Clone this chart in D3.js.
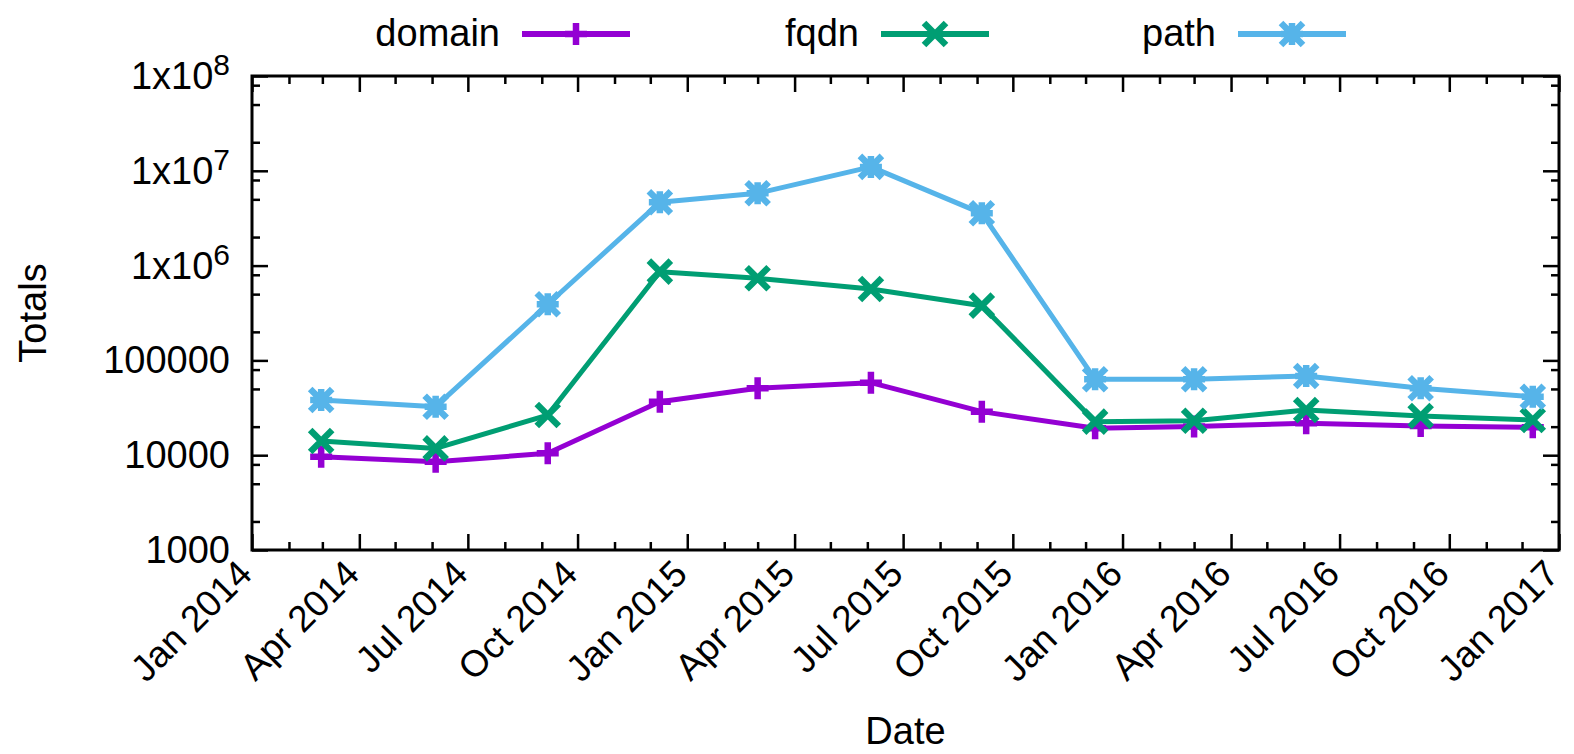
<!DOCTYPE html>
<html>
<head>
<meta charset="utf-8">
<script src="https://cdn.jsdelivr.net/npm/d3@7"></script>
<style>
  html, body { margin: 0; padding: 0; background: #fff; }
  svg { display: block; font-family: "Liberation Sans", Arial, sans-serif; }
</style>
</head>
<body>
<svg id="chart" width="1574" height="754"></svg>
<script>
// snapshot dates and totals
const dates = ["2014-02-28", "2014-06-04", "2014-09-06", "2014-12-09",
               "2015-03-01", "2015-06-04", "2015-09-05", "2015-12-09",
               "2016-03-01", "2016-06-03", "2016-09-07", "2016-12-10"];
const domainVals = [9640, 8540, 10470, 36700, 50800, 58200, 28800, 19200, 20100, 21700, 20300, 19700];
const fqdnVals   = [14100, 11800, 26500, 863000, 735000, 566000, 378000, 22600, 23100, 30000, 25900, 23500];
const pathVals   = [38200, 32500, 391000, 4650000, 5790000, 11000000, 3560000, 63200, 63200, 68500, 50800, 41400];

const seriesNames = ["domain", "fqdn", "path"];
const seriesColors = ["#9400d3", "#009e73", "#56b4e9"];
const seriesSymbols = ["plus", "cross", "star"];

const yTickValues = [1e3, 1e4, 1e5, 1e6, 1e7, 1e8];
const yMinorFactors = [2, 5, 8];

const svg = d3.select("#chart");
const plotL = 252, plotR = 1559, plotT = 76, plotB = 550;

const parse = d3.utcParse("%Y-%m-%d");
const x = d3.scaleUtc()
  .domain([new Date(Date.UTC(2014, 0, 1)), new Date(Date.UTC(2017, 0, 1))])
  .range([plotL, plotR]);
const y = d3.scaleLog()
  .domain([1e3, 1e8])
  .range([plotB, plotT]);

const series = [domainVals, fqdnVals, pathVals].map((vals, i) => ({
  name: seriesNames[i],
  color: seriesColors[i],
  symbol: seriesSymbols[i],
  points: vals.map((v, j) => ({ date: parse(dates[j]), value: v }))
}));

// ticks: gnuplot style, inward on all four sides
const majorX = d3.utcMonth.every(3).range(x.domain()[0], new Date(Date.UTC(2017, 0, 2)));
const minorX = d3.utcMonth.range(x.domain()[0], x.domain()[1]).filter(d => d.getUTCMonth() % 3 !== 0);
const minorY = [];
yTickValues.slice(0, -1).forEach(t => yMinorFactors.forEach(f => minorY.push(t * f)));

const tickStyle = g => {
  g.select(".domain").remove();
  g.selectAll("line").attr("stroke", "#000").attr("stroke-width", 2.5);
  g.selectAll("text").remove();
};

svg.append("g").attr("transform", `translate(0,${plotB})`)
  .call(d3.axisBottom(x).tickValues(majorX).tickSize(-16).tickFormat("")).call(tickStyle);
svg.append("g").attr("transform", `translate(0,${plotB})`)
  .call(d3.axisBottom(x).tickValues(minorX).tickSize(-8).tickFormat("")).call(tickStyle);
svg.append("g").attr("transform", `translate(0,${plotT})`)
  .call(d3.axisTop(x).tickValues(majorX).tickSize(-16).tickFormat("")).call(tickStyle);
svg.append("g").attr("transform", `translate(0,${plotT})`)
  .call(d3.axisTop(x).tickValues(minorX).tickSize(-8).tickFormat("")).call(tickStyle);

svg.append("g").attr("transform", `translate(${plotL},0)`)
  .call(d3.axisLeft(y).tickValues(yTickValues).tickSize(-16).tickFormat("")).call(tickStyle);
svg.append("g").attr("transform", `translate(${plotL},0)`)
  .call(d3.axisLeft(y).tickValues(minorY).tickSize(-8).tickFormat("")).call(tickStyle);
svg.append("g").attr("transform", `translate(${plotR},0)`)
  .call(d3.axisRight(y).tickValues(yTickValues).tickSize(-16).tickFormat("")).call(tickStyle);
svg.append("g").attr("transform", `translate(${plotR},0)`)
  .call(d3.axisRight(y).tickValues(minorY).tickSize(-8).tickFormat("")).call(tickStyle);

// frame
svg.append("rect")
  .attr("x", plotL).attr("y", plotT)
  .attr("width", plotR - plotL).attr("height", plotB - plotT)
  .attr("fill", "none").attr("stroke", "#000").attr("stroke-width", 3);

// y tick labels, 1x10^n for the big ones
const yLab = svg.append("g").attr("font-size", 38).attr("fill", "#000");
yTickValues.forEach(v => {
  const e = Math.round(Math.log10(v));
  const t = yLab.append("text")
    .attr("x", 230).attr("y", y(v) + 13)
    .attr("text-anchor", "end");
  if (e < 6) {
    t.text(d3.format("d")(v));
  } else {
    t.append("tspan").text("1x10");
    t.append("tspan").attr("font-size", 30).attr("dy", -14).text(e);
  }
});

// x tick labels, rotated
const fmt = d3.utcFormat("%b %Y");
svg.append("g").attr("font-size", 37).attr("fill", "#000")
  .selectAll("text")
  .data(majorX)
  .join("text")
  .attr("text-anchor", "end")
  .attr("transform", d => `translate(${x(d) + 2},${plotB + 26}) rotate(-45)`)
  .text(d => fmt(d));

// axis titles
svg.append("text")
  .attr("x", (plotL + plotR) / 2).attr("y", 744)
  .attr("text-anchor", "middle").attr("font-size", 38)
  .text("Date");
svg.append("text")
  .attr("transform", `translate(46,${(plotT + plotB) / 2}) rotate(-90)`)
  .attr("text-anchor", "middle").attr("font-size", 38)
  .text("Totals");

// markers
const ms = 11;
const symbolPath = {
  plus: `M${-ms},0H${ms}M0,${-ms}V${ms}`,
  cross: `M${-ms},${-ms}L${ms},${ms}M${-ms},${ms}L${ms},${-ms}`,
  star: `M${-ms},0H${ms}M0,${-ms}V${ms}M${-ms},${-ms}L${ms},${ms}M${-ms},${ms}L${ms},${-ms}`
};

const line = d3.line()
  .x(d => x(d.date))
  .y(d => y(d.value));

const sg = svg.append("g").selectAll("g")
  .data(series)
  .join("g");

sg.append("path")
  .attr("d", d => line(d.points))
  .attr("fill", "none")
  .attr("stroke", d => d.color)
  .attr("stroke-width", 5)
  .attr("stroke-linejoin", "round");

sg.each(function(s) {
  d3.select(this).selectAll(".pt")
    .data(s.points)
    .join("path")
    .attr("class", "pt")
    .attr("transform", d => `translate(${x(d.date)},${y(d.value)})`)
    .attr("d", symbolPath[s.symbol])
    .attr("fill", "none")
    .attr("stroke", s.color)
    .attr("stroke-width", 6.5);
});

// legend along the top
const legendRight = [500, 859, 1216];
const legend = svg.append("g").selectAll("g")
  .data(series)
  .join("g")
  .attr("transform", (d, i) => `translate(${legendRight[i]},34)`);

legend.append("text")
  .attr("text-anchor", "end")
  .attr("y", 12)
  .attr("font-size", 38)
  .text(d => d.name);
legend.append("line")
  .attr("x1", 22).attr("x2", 130)
  .attr("stroke", d => d.color)
  .attr("stroke-width", 6);
legend.append("path")
  .attr("transform", "translate(76,0)")
  .attr("d", d => symbolPath[d.symbol])
  .attr("fill", "none")
  .attr("stroke", d => d.color)
  .attr("stroke-width", 6.5);
</script>
</body>
</html>
